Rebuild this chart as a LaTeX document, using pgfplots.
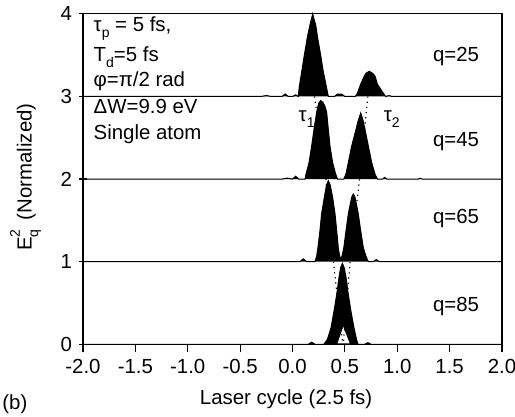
\documentclass[border=0pt]{standalone}
\usepackage{fontspec}
\setmainfont{Liberation Sans}
\usepackage{pgfplots}
\pgfplotsset{compat=1.18}
\begin{document}
\begin{tikzpicture}[font=\fontsize{10.2}{12.2}\selectfont]
\begin{axis}[name=ax, scale only axis, width=209.5pt, height=165.2pt,
  xmin=-2, xmax=2, ymin=0, ymax=4,
  xtick={-2,-1.5,-1,-0.5,0,0.5,1,1.5,2},
  xticklabels={-2.0,-1.5,-1.0,-0.5,0.0,0.5,1.0,1.5,2.0},
  ytick={0,1,2,3,4}, yticklabels={0,1,2,3,4},
  tick pos=left, xtick align=outside, ytick align=center,
  major tick length=4pt,
  axis line style={line width=0.6pt},
  tick style={line width=0.6pt, black},
  axis on top,
  clip=false,
]
% q=25 (offset 3)
\addplot[fill=black, draw=black, line width=0.5pt] coordinates {
(-2,3) (-0.30,3) (-0.25,3.012) (-0.20,3) (-0.10,3) (-0.07,3.03) (-0.04,3) (0.0,3) (0.03,3.02) (0.055,3)
(0.065,3.12) (0.088,3.30) (0.113,3.5) (0.141,3.71) (0.167,3.87) (0.185,3.96) (0.193,4.0) (0.20,3.96) (0.221,3.87)
(0.240,3.71) (0.269,3.5) (0.294,3.3) (0.32,3.14) (0.342,3.0) (0.40,3.0) (0.43,3.03) (0.47,3.03) (0.50,3.0)
(0.60,3) (0.62,3.04) (0.651,3.15) (0.683,3.24) (0.70,3.28) (0.733,3.305) (0.766,3.28) (0.79,3.24) (0.81,3.15)
(0.867,3.04) (0.89,3) (0.92,3.012) (0.95,3) (2,3)};
% q=45 (offset 2)
\addplot[fill=black, draw=black, line width=0.5pt] coordinates {
(-2,2) (-0.10,2) (-0.05,2.012) (0,2) (0.03,2.035) (0.06,2.0) (0.12,2.0)
(0.129,2.06) (0.158,2.2) (0.183,2.4) (0.205,2.6) (0.231,2.81) (0.25,2.92) (0.27,2.95) (0.29,2.93) (0.31,2.88)
(0.326,2.81) (0.342,2.6) (0.358,2.4) (0.383,2.2) (0.412,2.06) (0.43,2.0) (0.49,2.0)
(0.51,2.06) (0.533,2.2) (0.565,2.4) (0.606,2.6) (0.63,2.72) (0.651,2.80) (0.672,2.72) (0.692,2.6) (0.724,2.4)
(0.756,2.2) (0.788,2.06) (0.81,2.0) (0.86,2.0) (0.88,2.02) (0.90,2.0) (1.2,2.0) (1.22,2.01) (1.24,2.0) (2,2)};
% q=65 (offset 1)
\addplot[fill=black, draw=black, line width=0.5pt] coordinates {
(-2,1) (0.07,1) (0.103,1.035) (0.135,1.0) (0.215,1.0)
(0.231,1.07) (0.243,1.17) (0.262,1.375) (0.278,1.58) (0.304,1.78) (0.325,1.93) (0.342,1.98) (0.36,1.93)
(0.383,1.78) (0.406,1.58) (0.422,1.375) (0.437,1.17) (0.45,1.07) (0.462,1.03) (0.475,1.08) (0.49,1.17)
(0.511,1.375) (0.533,1.58) (0.565,1.78) (0.58,1.82) (0.597,1.78) (0.628,1.58) (0.651,1.375) (0.676,1.17)
(0.70,1.07) (0.724,1.0) (0.77,1.0) (0.80,1.025) (0.83,1.0) (2,1)};
% q=85 (offset 0)
\addplot[fill=black, draw=black, line width=0.5pt] coordinates {
(-2,0) (0.15,0) (0.183,0.025) (0.215,0) (0.30,0)
(0.333,0.06) (0.368,0.2) (0.396,0.4) (0.422,0.6) (0.444,0.81) (0.46,0.93) (0.477,0.98) (0.495,0.92)
(0.511,0.81) (0.533,0.6) (0.558,0.4) (0.587,0.2) (0.611,0.06) (0.625,0) (0.69,0) (0.72,0.02) (0.75,0) (2,0)};
% white notch inside q=85
\addplot[fill=white, draw=none] coordinates {(0.43,0.012) (0.485,0.21) (0.545,0.012)};
% dotted guides
\addplot[black, dotted, line width=0.6pt] coordinates {(0.21,3.0) (0.32,2.0) (0.39,1.0) (0.48,0.0)};
\addplot[black, dotted, line width=0.6pt] coordinates {(0.72,3.0) (0.64,2.0) (0.55,1.0) (0.485,0.0)};
% text
\node[anchor=base west] at (axis cs:-1.965,3.786) {τ\raisebox{-0.55ex}{\scriptsize p} = 5 fs,};
\node[anchor=base west] at (axis cs:-1.965,3.42) {T\raisebox{-0.55ex}{\scriptsize d}=5 fs};
\node[anchor=base west] at (axis cs:-1.965,3.116) {φ=π/2 rad};
\node[anchor=base west] at (axis cs:-1.965,2.80) {ΔW=9.9 eV};
\node[anchor=base west] at (axis cs:-1.965,2.475) {Single atom};
\node[anchor=base west] at (axis cs:1.275,3.42) {q=25};
\node[anchor=base west] at (axis cs:1.275,2.393) {q=45};
\node[anchor=base west] at (axis cs:1.275,1.466) {q=65};
\node[anchor=base west] at (axis cs:1.275,0.396) {q=85};
\node[anchor=base west] at (axis cs:-0.008,2.696) {τ\raisebox{-0.55ex}{\scriptsize 1}};
\node[anchor=base west] at (axis cs:0.804,2.70) {τ\raisebox{-0.55ex}{\scriptsize 2}};
\end{axis}
\node[anchor=base] at ([xshift=-3.2pt, yshift=-30.35pt]ax.south) {Laser cycle (2.5 fs)};
\node[anchor=base west, inner sep=0pt] at ([xshift=-40.5pt, yshift=-32.85pt]ax.south west) {(b)};
\node[anchor=base, rotate=90, inner sep=0pt] at ([xshift=-25.65pt, yshift=1pt]ax.west)
  {E\rlap{\raisebox{-0.6ex}{\scriptsize q}}\raisebox{1.1ex}{\scriptsize 2}\hspace{0.45em}(Normalized)};
\pgfresetboundingbox
\useasboundingbox ([xshift=-41.5pt, yshift=-36.35pt]ax.south west) rectangle ++(257.5pt,208.5pt);
\end{tikzpicture}
\end{document}
